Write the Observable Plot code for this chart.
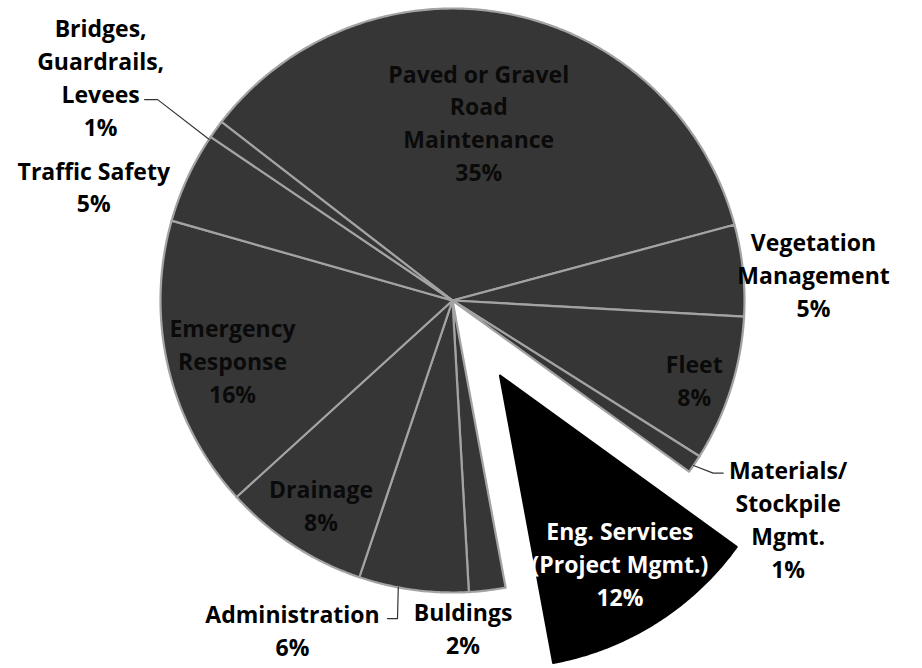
<!DOCTYPE html>
<html><head><meta charset="utf-8">
<script src="https://cdn.jsdelivr.net/npm/d3@7"></script>
<script src="https://cdn.jsdelivr.net/npm/@observablehq/plot@0.6"></script>
<style>body{margin:0;background:#fff}#chart svg{display:block}</style>
</head><body><div id="chart"></div>
<script>
// ---- data ----
const categories = ["Paved or Gravel Road Maintenance","Vegetation Management","Fleet","Materials/ Stockpile Mgmt.","Eng. Services (Project Mgmt.)","Buldings","Administration","Drainage","Emergency Response","Traffic Safety","Bridges, Guardrails, Levees"];
const values = [35,5,8,1,12,2,6,8,16,5,1];
const labelLines = [["Paved or Gravel","Road","Maintenance"],["Vegetation","Management"],["Fleet"],["Materials/","Stockpile","Mgmt."],["Eng. Services","(Project Mgmt.)"],["Buldings"],["Administration"],["Drainage"],["Emergency","Response"],["Traffic Safety"],["Bridges,","Guardrails,","Levees"]];
const percentLabels = ["35%","5%","8%","1%","12%","2%","6%","8%","16%","5%","1%"];
const highlighted = "Eng. Services (Project Mgmt.)";

// ---- layout ----
const W = 922, H = 668, cx = 452, cy = 300, R = 292;
const startDeg = -52.3, explodePx = 89;
// label placement: [angle offset from slice middle (deg), radius factor]
const labelPlace = [[-3,0.62],[1.6,1.24],[0.2,0.87],[-1.1,1.37],[-0.4,0.76],[5,1.12],[18.3,1.25],[-0.3,0.83],[-1.8,0.78],[-7.2,1.29],[-3.3,1.43]];
// leaders: slice index, edge angle (deg), elbow offsets from label centre (px)
const leaders = [
  {i:10, edge:303.5, pts:[[57,24],[44,24]]},
  {i:3, edge:124.4, pts:[[-75,-45],[-65,-45]]},
  {i:6, edge:190.7, pts:[[105,-10],[95,-10]]}
];
const sliceFill = "#363636", sliceStroke = "#a3a3a3";
const font = "'Open Sans', Lato, sans-serif";

const rad = d => d * Math.PI / 180;
const pie = d3.pie().sort(null).startAngle(rad(startDeg)).endAngle(rad(startDeg) + 2*Math.PI)(values);
const offsets = pie.map((a, i) => {
  if (categories[i] !== highlighted) return [0, 0];
  const m = (a.startAngle + a.endAngle) / 2;
  return [explodePx / R * Math.sin(m), -explodePx / R * Math.cos(m)];
});

const polys = [];
pie.forEach((a, i) => {
  const [ox, oy] = offsets[i];
  polys.push({s: i, x: ox, y: oy});
  const n = Math.max(2, Math.ceil((a.endAngle - a.startAngle) / rad(0.5)));
  for (let k = 0; k <= n; k++) {
    const t = a.startAngle + (a.endAngle - a.startAngle) * k / n;
    polys.push({s: i, x: ox + Math.sin(t), y: oy - Math.cos(t)});
  }
  polys.push({s: i, x: ox, y: oy});
});

const labels = pie.map((a, i) => {
  const [ox, oy] = offsets[i];
  const m = (a.startAngle + a.endAngle) / 2 + rad(labelPlace[i][0]);
  const k = labelPlace[i][1];
  const inside = k < 1;
  return {
    x: ox + k * Math.sin(m), y: oy - k * Math.cos(m),
    text: labelLines[i].join("\n") + "\n" + percentLabels[i],
    color: categories[i] === highlighted ? "#ffffff" : (inside ? "#0a0a0a" : "#000000")
  };
});

const leaderPts = [];
leaders.forEach((L, j) => {
  const lab = labels[L.i];
  const e = rad(L.edge);
  leaderPts.push({j, x: Math.sin(e), y: -Math.cos(e)});
  L.pts.forEach(p => leaderPts.push({j, x: lab.x + p[0] / R, y: lab.y + p[1] / R}));
});

const chart = Plot.plot({
  width: W, height: H,
  margin: 0,
  x: {domain: [-cx / R, (W - cx) / R], range: [0, W], axis: null},
  y: {domain: [-cy / R, (H - cy) / R], range: [0, H], axis: null},
  color: {type: "identity"},
  style: {background: "#fff", fontFamily: font},
  marks: [
    Plot.line(polys, {x: "x", y: "y", z: "s", curve: "linear",
      fill: d => categories[d.s] === highlighted ? "#000" : sliceFill,
      stroke: d => categories[d.s] === highlighted ? "#000" : sliceStroke,
      strokeWidth: 2.2, strokeLinejoin: "round"}),
    Plot.line(leaderPts, {x: "x", y: "y", z: "j", stroke: "#333", strokeWidth: 1.2}),
    Plot.text(labels, {x: "x", y: "y", text: "text", fill: "color",
      fontSize: 23, fontWeight: "bold", lineHeight: 1.43, fontFamily: font})
  ]
});
document.getElementById("chart").append(chart);
</script>
</body></html>
